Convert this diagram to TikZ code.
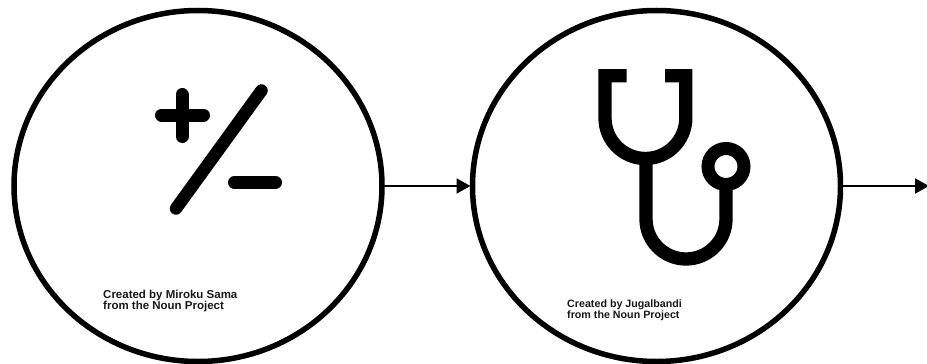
\documentclass[tikz,border=0pt]{standalone}
\usepackage{fontspec}
\setmainfont{Liberation Sans}
\usetikzlibrary{shapes.geometric,arrows.meta}
\tikzset{
  bigcircle/.style={draw=black,line width=5.5pt,ellipse,minimum width=368pt,minimum height=351pt,inner sep=0pt,outer sep=0pt},
  flow/.style={draw=black,line width=2pt,-{Triangle[length=14pt,width=15pt]}},
  credit/.style={anchor=north west,align=left,inner sep=0pt,text=black!90,font=\bfseries\fontsize{11.5}{11}\selectfont},
  creditsmall/.style={credit,font=\bfseries\fontsize{10.7}{10.8}\selectfont},
  glyph/.style={draw=black,line width=13pt,line cap=round},
  scope/.style={draw=black,line width=13.3pt,line cap=butt,line join=miter}
}
\begin{document}
\begin{tikzpicture}[x=1pt,y=-1pt]
\useasboundingbox (0,0) rectangle (927,364);
\node[bigcircle] (c1) at (198,186) {};
\node[bigcircle] (c2) at (656.5,186) {};
\coordinate (endpt) at (929,186);
\draw[flow,shorten >=2pt] (c1.east) -- (c2.west);
\draw[flow] (c2.east) -- (endpt);
% plus / minus icon
\draw[glyph] (161.5,115) -- (203.5,115);
\draw[glyph] (182,94.5) -- (182,136.5);
\draw[glyph,line width=12.5pt] (261.5,90.5) -- (176,208.5);
\draw[glyph] (234.5,182.5) -- (275.5,182.5);
% stethoscope icon
\draw[scope] (626.7,75.7) -- (605,75.7) -- (605,118)
  arc[start angle=180,end angle=0,x radius=40.4,y radius=40.5]
  -- (685.8,75.7) -- (665,75.7);
\draw[scope] (646,158) -- (646,219)
  arc[start angle=180,end angle=0,radius=40]
  -- (726,190);
\draw[draw=black,line width=13pt] (726,166.5) circle[radius=18];
% credits
\node[credit] (t1) at (103,289.5) {Created by Miroku Sama\\from the Noun Project};
\node[creditsmall] (t2) at (567,299.8) {Created by Jugalbandi\\from the Noun Project};
\end{tikzpicture}
\end{document}
